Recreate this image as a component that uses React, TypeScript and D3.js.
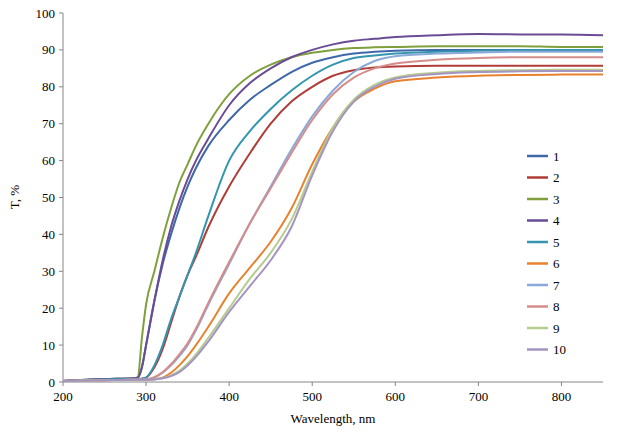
import * as d3 from 'd3';

const wl = [200, 250, 285, 290, 295, 300, 310, 320, 330, 340, 350, 360, 375, 400, 425, 450, 475, 500, 525, 550, 575, 600, 650, 700, 750, 800, 850];

const s1 = [0.3, 0.8, 1.0, 1.2, 4, 10, 22, 32, 40, 47, 53, 58, 64, 71, 76.5, 80.5, 84, 86.5, 88, 89, 89.5, 89.8, 90, 90, 90, 90, 90];
const s2 = [0.3, 0.7, 0.8, 0.8, 0.9, 1.2, 4, 9, 16, 23, 29, 34, 42, 53, 62, 70, 76, 80, 83, 84.5, 85.2, 85.5, 85.7, 85.7, 85.7, 85.7, 85.7];
const s3 = [0.3, 0.8, 1.0, 1.3, 12, 21, 30, 39, 47, 54, 59, 64, 70, 78, 83, 86, 88, 89.2, 90, 90.5, 90.7, 90.8, 91, 91, 91, 90.8, 90.8];
const s4 = [0.3, 0.8, 1.0, 1.2, 4, 10, 22, 33, 42, 49, 55, 60, 66, 75, 81, 85, 88, 90, 91.5, 92.5, 93, 93.5, 94, 94.3, 94.2, 94.2, 94];
const s5 = [0.3, 0.7, 0.8, 0.8, 0.9, 1.2, 4.5, 10, 17, 23, 29, 35, 45, 60, 68, 74, 79, 83, 86, 87.8, 88.5, 89, 89.5, 89.8, 89.9, 90, 90];
const s6 = [0.3, 0.5, 0.6, 0.6, 0.6, 0.6, 0.8, 1.2, 2.5, 4.5, 7, 10, 15, 24, 31, 38, 47, 59, 69, 76, 79.5, 81.5, 82.5, 83, 83.2, 83.3, 83.3];
const s7 = [0.3, 0.5, 0.6, 0.6, 0.6, 0.7, 1.2, 2.5, 4.5, 7, 10, 14, 21, 32, 43, 53, 63, 72, 79, 84, 87, 88.3, 89, 89.3, 89.5, 89.5, 89.5];
const s8 = [0.3, 0.5, 0.6, 0.6, 0.6, 0.7, 1.3, 2.7, 4.8, 7.5, 10.5, 14.5, 21.5, 32.5, 43, 52.5, 62, 71, 78, 82.5, 85, 86.3, 87.3, 87.8, 88, 88, 88];
const s9 = [0.3, 0.5, 0.6, 0.6, 0.6, 0.6, 0.7, 1, 1.8, 3, 5, 7.5, 12, 20, 28, 35, 44, 57, 69, 76.5, 80.5, 82.5, 83.8, 84.3, 84.5, 84.6, 84.6];
const s10 = [0.3, 0.5, 0.6, 0.6, 0.6, 0.6, 0.7, 1, 1.6, 2.7, 4.5, 6.8, 11, 19, 26, 33, 42, 56, 68, 76, 80, 82.2, 83.5, 84, 84.2, 84.3, 84.3];

const names = ['1', '2', '3', '4', '5', '6', '7', '8', '9', '10'];
const series = [s1, s2, s3, s4, s5, s6, s7, s8, s9, s10];
const colors = ['#3F68A8', '#B03C38', '#7FA03C', '#6A4C94', '#3396AE', '#E8822E', '#8AA8D8', '#D68C8A', '#B5CC8E', '#A594C2'];
const xTicks = [200, 300, 400, 500, 600, 700, 800];
const yTicks = [0, 10, 20, 30, 40, 50, 60, 70, 80, 90, 100];

export default function App() {
  const W = 623, H = 438;
  const x = d3.scaleLinear().domain([200, 850]).range([63, 603]);
  const y = d3.scaleLinear().domain([0, 100]).range([382, 13]);
  const line = d3.line<number>().x((_, i) => x(wl[i])).y((d) => y(d)).curve(d3.curveMonotoneX);
  const font = '"Liberation Serif", "Times New Roman", serif';
  return (
    <svg width={W} height={H} style={{ position: 'absolute', left: 0, top: 0, fontFamily: font }}>
      <rect width={W} height={H} fill="#fff" />
      <line x1={63} x2={63} y1={13} y2={382} stroke="#868686" />
      <line x1={63} x2={603} y1={382} y2={382} stroke="#868686" />
      {yTicks.map((t) => (
        <g key={t}>
          <line x1={59} x2={63} y1={y(t)} y2={y(t)} stroke="#868686" />
          <text x={55} y={y(t) + 4.5} fontSize={13} textAnchor="end">{t}</text>
        </g>
      ))}
      {xTicks.map((t) => (
        <g key={t}>
          <line x1={x(t)} x2={x(t)} y1={382} y2={386} stroke="#868686" />
          <text x={x(t)} y={401} fontSize={13} textAnchor="middle">{t}</text>
        </g>
      ))}
      <text x={333} y={423} fontSize={13} textAnchor="middle">Wavelength, nm</text>
      <text transform="translate(19,197) rotate(-90)" fontSize={13} textAnchor="middle">T, %</text>
      {series.map((s, i) => (
        <path key={i} d={line(s) || ''} fill="none" stroke={colors[i]} strokeWidth={2} />
      ))}
      {names.map((n, i) => (
        <g key={n}>
          <line x1={527} x2={548} y1={156 + i * 21.5} y2={156 + i * 21.5} stroke={colors[i]} strokeWidth={2.5} />
          <text x={553} y={160.5 + i * 21.5} fontSize={13}>{n}</text>
        </g>
      ))}
    </svg>
  );
}
